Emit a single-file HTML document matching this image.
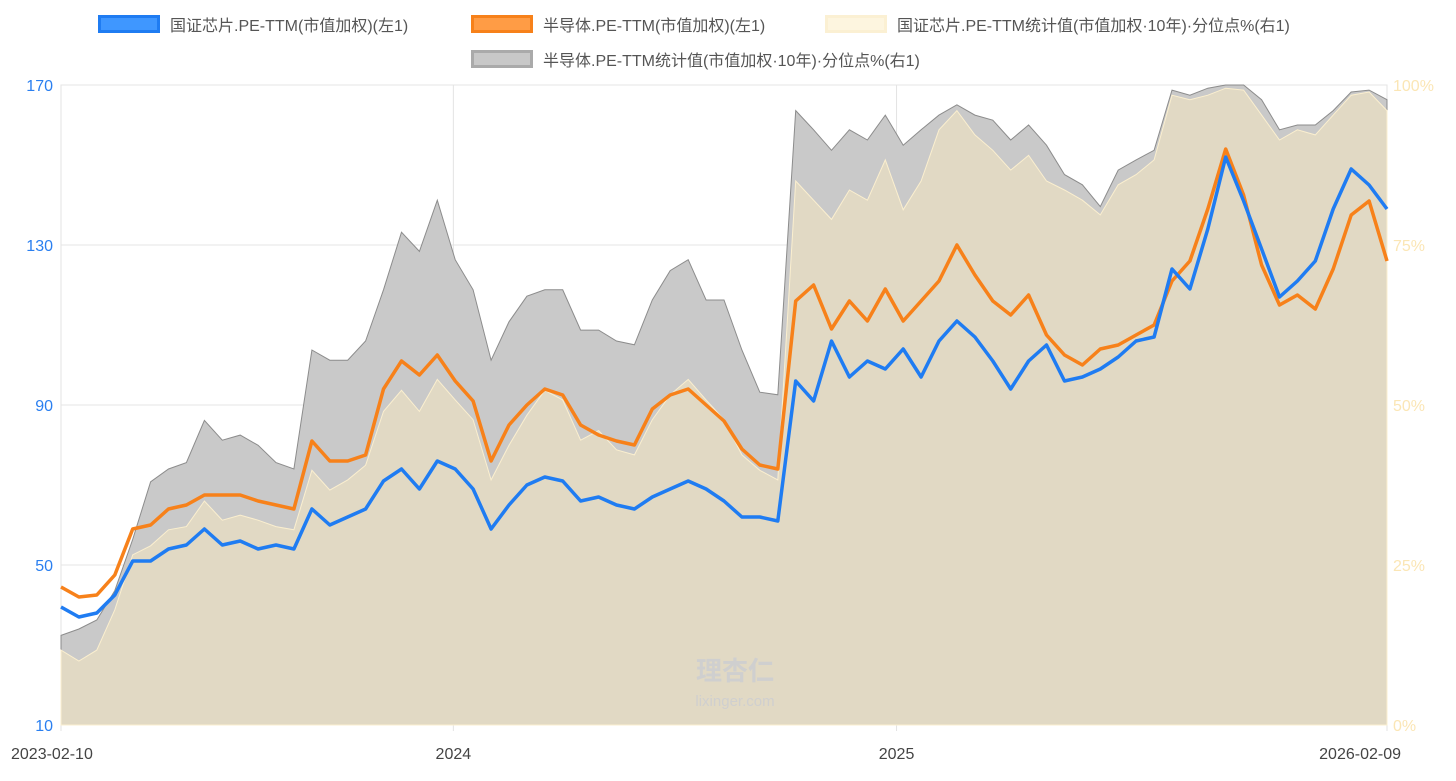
<!DOCTYPE html>
<html><head><meta charset="utf-8">
<style>
body{margin:0;background:#fff;font-family:"Liberation Sans","Noto Sans CJK SC",sans-serif;}
#wrap{position:relative;width:1456px;height:781px;overflow:hidden;}
.leg{position:absolute;font-size:16px;color:#555;display:flex;align-items:center;white-space:nowrap;}
.sw{width:62px;height:18px;margin-right:10px;box-sizing:border-box;border:3px solid;}
</style></head><body>
<div id="wrap">
<div class="leg" style="left:98px;top:12px"><div class="sw" style="background:#3f97ff;border-color:#1f7cf2"></div>国证芯片.PE-TTM(市值加权)(左1)</div>
<div class="leg" style="left:471px;top:12px"><div class="sw" style="background:#ff9c45;border-color:#f7811a"></div>半导体.PE-TTM(市值加权)(左1)</div>
<div class="leg" style="left:825px;top:12px"><div class="sw" style="background:#fdf5df;border-color:#fbf0d3;width:62px"></div>国证芯片.PE-TTM统计值(市值加权·10年)·分位点%(右1)</div>
<div class="leg" style="left:471px;top:47px"><div class="sw" style="background:#c8c8c8;border-color:#aaa"></div>半导体.PE-TTM统计值(市值加权·10年)·分位点%(右1)</div>
<svg id="svg" width="1456" height="781" style="position:absolute;left:0;top:0;pointer-events:none"></svg>
</div>
<script>
const leftTicks=[10,50,90,130,170];
const rightTicks=["0%","25%","50%","75%","100%"];
const xTickLabels=["2023-02-10","2024","2025","2026-02-09"];
const xTickDays=[0,324,690,1095];
const totalDays=1095;
const chipPE=[39.5,37,38,42.5,51,51,54,55,59,55,56,54,55,54,64,60,62,64,71,74,69,76,74,69,59,65,70,72,71,66,67,65,64,67,69,71,69,66,62,62,61,96,91,106,97,101,99,104,97,106,111,107,101,94,101,105,96,97,99,102,106,107,124,119,134,152,141,129,117,121,126,139,149,145,139];
const semiPE=[44.5,42,42.5,47.5,59,60,64,65,67.5,67.5,67.5,66,65,64,81,76,76,77.5,94,101,97.5,102.5,96,91,76,85,90,94,92.5,85,82.5,81,80,89,92.5,94,90,86,79,75,74,116,120,109,116,111,119,111,116,121,130,122.5,116,112.5,117.5,107.5,102.5,100,104,105,107.5,110,121,126,139,154,142.5,125,115,117.5,114,124,137.5,141,126];
const semiPct=[14,15,16.4,21,29,38,40,41,47.6,44.5,45.3,43.7,41,40,58.6,57,57,60,68,77,74,82,72.7,68,57,63,67,68,68,61.7,61.7,60,59.4,66.4,71,72.7,66.4,66.4,58.6,52,51.6,96,93,89.8,93,91.4,95.3,90.6,93,95.3,96.9,95.3,94.5,91.4,93.75,90.6,86,84.4,81,86.7,88.3,89.8,99.2,98.4,99.5,100,100,97.7,93,93.75,93.75,96,98.9,99.2,97.7];
const chipPct=[11.7,10,11.7,18,26.6,28,30.5,31,35,32,32.8,32,31,30.5,39.8,36.7,38.3,40.6,49,52.3,49,54,50.8,47.7,38.3,43.7,48.4,52.3,50.8,44.5,46,43,42.2,47.7,51.6,54,50.8,47.7,42.2,39.8,38.3,85,82,79,83.6,82,88.3,80.5,85,93,96,92.2,89.8,86.7,89,85,83.6,82,79.7,84.4,86,88.3,98.4,97.7,98.4,99.5,99.2,95.3,91.4,93,92.2,95.3,98.4,98.9,96];

const X0=61,X1=1387,YT=85,YB=725;
const xs=i=>X0+i*(X1-X0)/(chipPE.length-1);
const xd=d=>X0+d/totalDays*(X1-X0);
const yL=v=>YB-(v-10)/160*(YB-YT);
const yR=p=>YB-p/100*(YB-YT);
const svg=document.getElementById('svg');
const NS='http://www.w3.org/2000/svg';
function mk(tag,attrs){const e=document.createElementNS(NS,tag);for(const k in attrs)e.setAttribute(k,attrs[k]);svg.appendChild(e);return e;}
// frame
let fr=mk('rect',{x:X0,y:YT,width:X1-X0,height:YB-YT,fill:'none',stroke:'#e3e3e3'});


leftTicks.forEach((v,i)=>{
  const g=mk('line',{x1:X0,x2:X1,y1:yL(v),y2:yL(v),stroke:'#e6e6e6'});
  
  
  const t=mk('text',{x:X0-8,y:yL(v)+6,'text-anchor':'end','font-size':16,fill:'#2a7ff0'});t.textContent=v;
  
  
  const r=mk('text',{x:X1+6,y:yL(v)+6,'font-size':16,fill:'#fbe6b5'});r.textContent=rightTicks[i];
  
  
});
xTickDays.forEach((d,i)=>{
  const x=xd(d);
  const g=mk('line',{x1:x,x2:x,y1:YT,y2:YB+6,stroke:'#e3e3e3'});
  
  
  const anchor=i==0?'start':(i==xTickDays.length-1?'end':'middle');
  const t=mk('text',{x:i==0?x-50:(i==xTickDays.length-1?x+14:x),y:YB+34,'text-anchor':anchor,'font-size':16,fill:'#444'});t.textContent=xTickLabels[i];
  
  
});
function area(arr){let d=`M${xs(0)},${YB}`;arr.forEach((p,i)=>d+=`L${xs(i).toFixed(1)},${yR(p).toFixed(1)}`);return d+`L${xs(arr.length-1)},${YB}Z`;}
function line(arr){return arr.map((v,i)=>(i?'L':'M')+xs(i).toFixed(1)+','+yL(v).toFixed(1)).join('');}
let a1=mk('path',{d:area(semiPct),fill:'#c9c9c9',stroke:'#8c8c8c','stroke-width':1});


let a2=mk('path',{d:area(chipPct),fill:'rgba(255,238,190,0.45)',stroke:'#fbefcf','stroke-width':1});


let wm=mk('text',{x:735,y:680,'text-anchor':'middle','font-size':26,fill:'#cfcfcf','font-weight':'bold'});wm.textContent='理杏仁';


let wm2=mk('text',{x:735,y:706,'text-anchor':'middle','font-size':15,fill:'#cfcfcf'});wm2.textContent='lixinger.com';


let l2=mk('path',{d:line(semiPE),fill:'none',stroke:'#f7811a','stroke-width':3.5,'stroke-linejoin':'round'});


let l1=mk('path',{d:line(chipPE),fill:'none',stroke:'#1f7cf2','stroke-width':3.5,'stroke-linejoin':'round'});


</script>
</body></html>
